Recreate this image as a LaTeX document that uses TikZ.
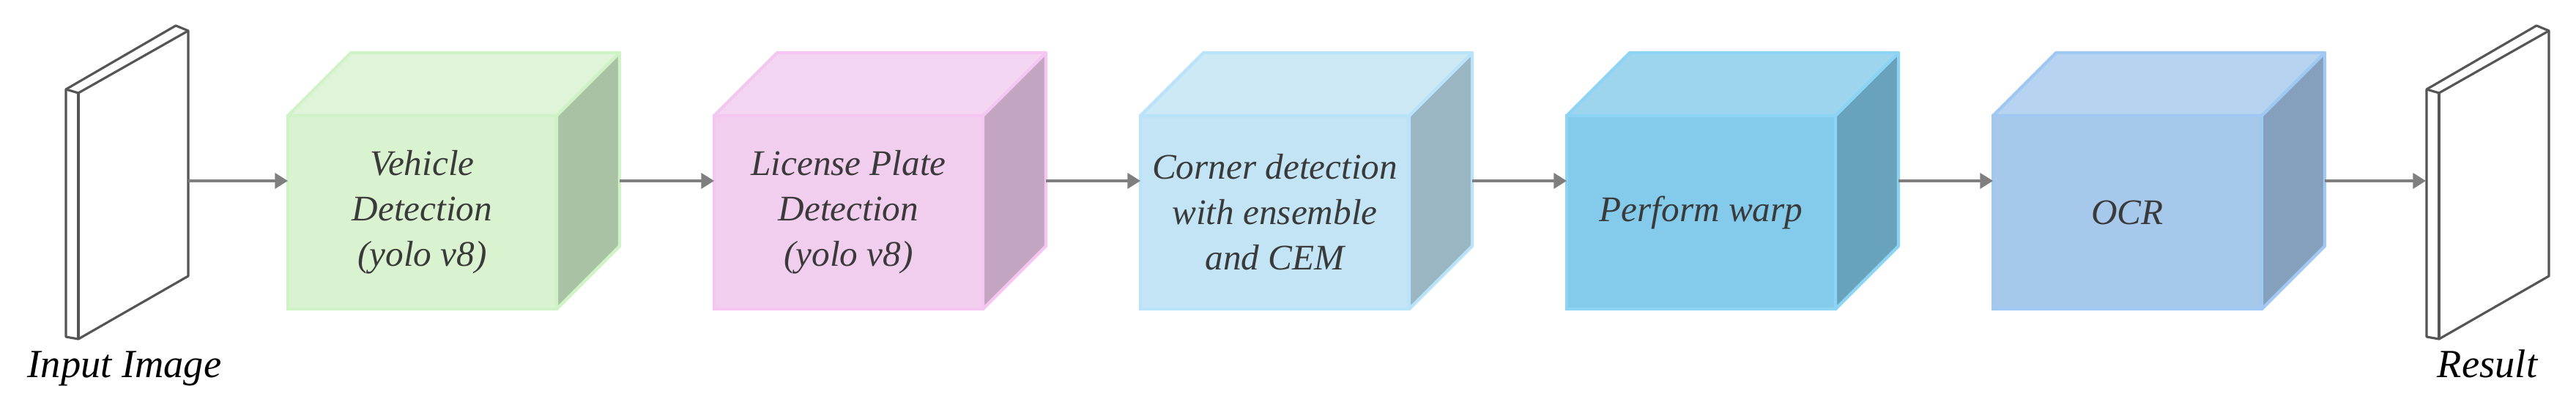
\documentclass[tikz,border=0pt]{standalone}
\usepackage{fontspec}
\setmainfont{Liberation Serif}
\usetikzlibrary{positioning, arrows.meta}

\definecolor{frontgrn}{HTML}{D9F2D0}
\definecolor{topgrn}{HTML}{E0F4DA}
\definecolor{sidegrn}{HTML}{A9C2A3}
\definecolor{edgegrn}{HTML}{CFF2C6}
\definecolor{frontpnk}{HTML}{F2CEEE}
\definecolor{toppnk}{HTML}{F4D6F2}
\definecolor{sidepnk}{HTML}{C3A5C1}
\definecolor{edgepnk}{HTML}{F5C6F1}
\definecolor{frontsky}{HTML}{C2E4F4}
\definecolor{topsky}{HTML}{CDE9F5}
\definecolor{sidesky}{HTML}{9BB6C3}
\definecolor{edgesky}{HTML}{B9E3F8}
\definecolor{frontblu}{HTML}{83CAEB}
\definecolor{topblu}{HTML}{9DD5EF}
\definecolor{sideblu}{HTML}{69A2BC}
\definecolor{edgeblu}{HTML}{8CD3F4}
\definecolor{frontocr}{HTML}{A6C8EB}
\definecolor{topocr}{HTML}{B6D3F0}
\definecolor{sideocr}{HTML}{85A0BC}
\definecolor{edgeocr}{HTML}{A0C8F2}
\definecolor{txtgray}{HTML}{3A3A3A}
\definecolor{arrowgray}{HTML}{7F7F7F}
\definecolor{sheetgray}{HTML}{555555}

\begin{document}
\begin{tikzpicture}[
    node distance=2.15cm,
    block/.style={
        rectangle,
        draw=edge#1,
        fill=front#1,
        line width=1.2pt,
        outer sep=0pt,
        align=center,
        text=txtgray,
        font=\fontsize{14}{17.6}\selectfont\itshape,
        minimum width=3.67cm,
        minimum height=2.64cm
    },
    face/.style={
        line width=1.2pt,
        line join=round
    },
    sheet/.style={
        draw=sheetgray,
        line width=0.9pt,
        line join=round
    },
    caption/.style={
        anchor=base,
        font=\fontsize{15.5}{18}\selectfont\itshape
    },
    arrow/.style={
        -{Triangle[length=5pt,width=6pt]},
        draw=arrowgray,
        line width=0.9pt
    }
]
\useasboundingbox (0,0) rectangle (35.17,5.48);

% input and output sheets
\foreach \s in {0,32.23}{
    \begin{scope}[xshift=\s cm]
        \draw[sheet] (0.90,4.26) -- (2.40,5.13) -- (2.57,5.06) -- (2.57,1.71)
            -- (1.07,0.85) -- (0.90,0.88) -- cycle;
        \draw[sheet] (0.90,4.26) -- (1.07,4.21) -- (2.57,5.06);
        \draw[sheet] (1.07,4.21) -- (1.07,0.85);
    \end{scope}
}
\coordinate (inimg) at (2.57,3.01);
\coordinate (resimg) at (33.12,3.01);
\node[caption] (inlabel) at (1.70,0.33) {Input Image};
\node[caption] (reslabel) at (33.96,0.33) {Result};

% pipeline stages
\node[block=grn] (veh) at (5.765,2.58) {Vehicle\\Detection\\(yolo v8)};
\node[block=pnk, right=of veh] (plate) {License Plate\\Detection\\(yolo v8)};
\node[block=sky, right=of plate] (corner) {Corner detection\\with ensemble\\and CEM};
\node[block=blu, right=of corner] (warp) {Perform warp};
\node[block=ocr, right=of warp] (ocr) {OCR};

\foreach \n/\c in {veh/grn, plate/pnk, corner/sky, warp/blu, ocr/ocr}{
    \draw[face, draw=edge\c, fill=top\c] (\n.north west) -- ++(0.86,0.86)
        -- ++(3.67,0) -- (\n.north east) -- cycle;
    \draw[face, draw=edge\c, fill=side\c] (\n.north east) -- ++(0.86,0.86)
        -- ++(0,-2.64) -- (\n.south east) -- cycle;
}

\draw[arrow] (inimg) -- ([yshift=0.43cm]veh.west);
\foreach \a/\b in {veh/plate, plate/corner, corner/warp, warp/ocr}{
    \draw[arrow] ([xshift=0.86cm,yshift=0.43cm]\a.east) -- ([yshift=0.43cm]\b.west);
}
\draw[arrow] ([xshift=0.86cm,yshift=0.43cm]ocr.east) -- (resimg);

\end{tikzpicture}
\end{document}
